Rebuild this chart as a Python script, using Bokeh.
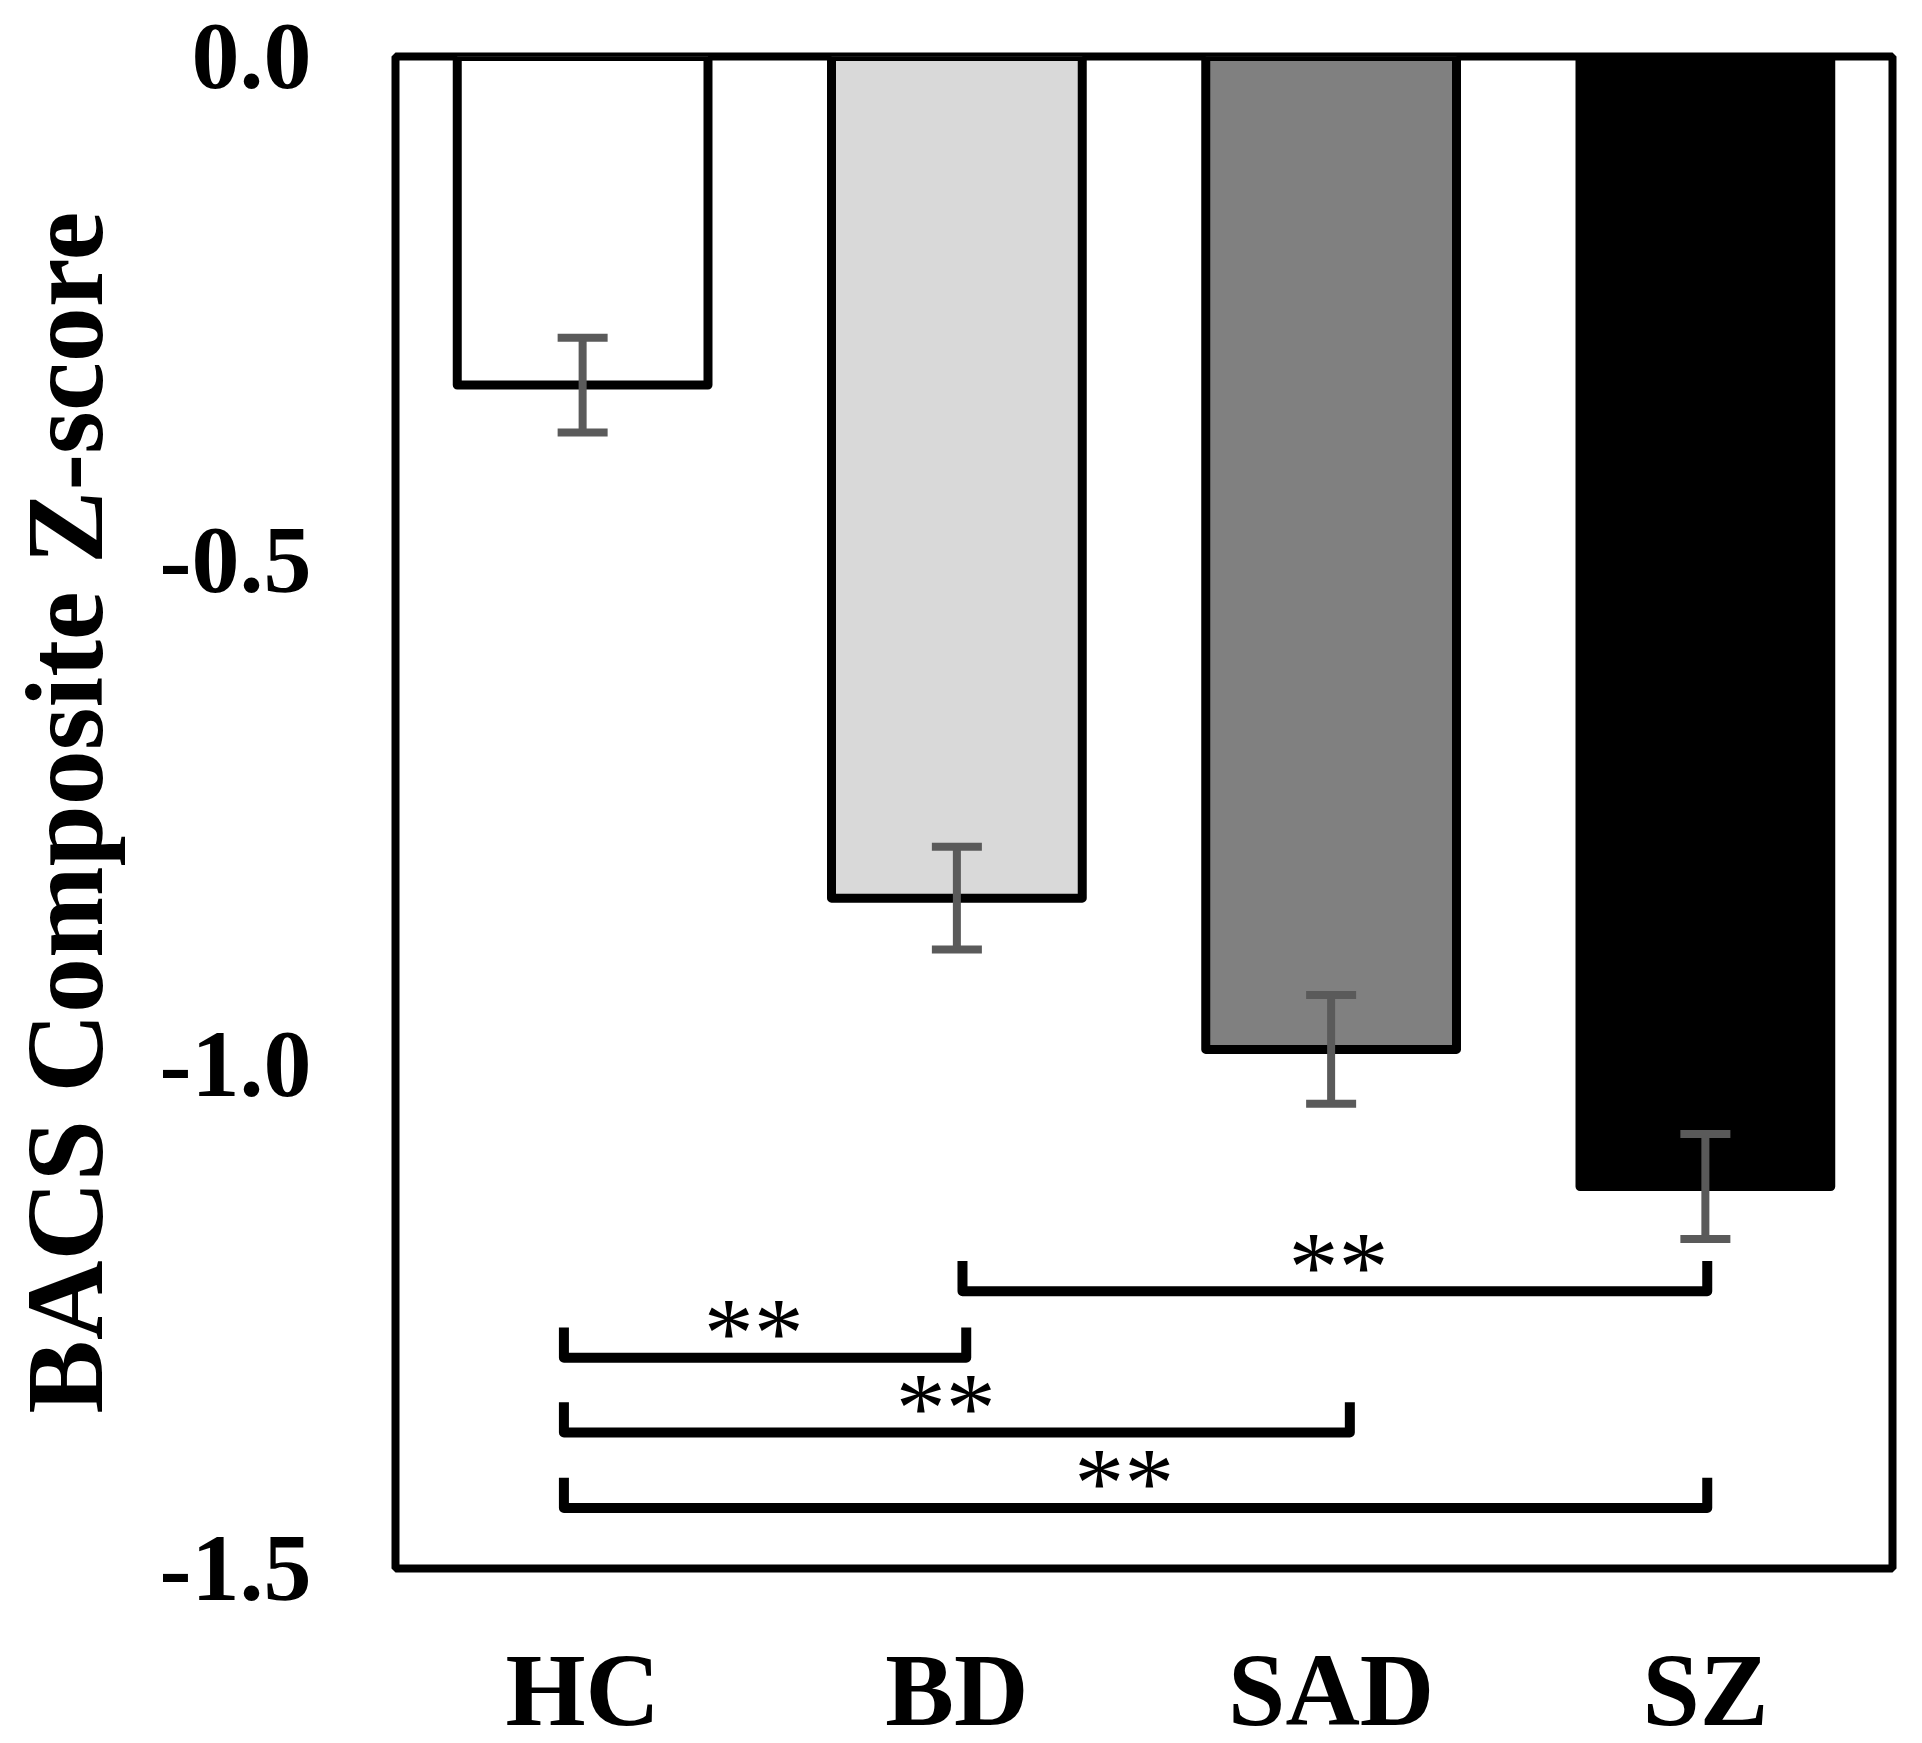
from bokeh.plotting import figure
from bokeh.models import FactorRange, Range1d, FixedTicker, Whisker, TeeHead, ColumnDataSource
from bokeh.embed import file_html
from bokeh.resources import INLINE
from bokeh.core.properties import value

# ---- data ----
groups = ["HC", "BD", "SAD", "SZ"]
means = [-0.326, -0.835, -0.985, -1.121]
sems = [0.047, 0.051, 0.054, 0.052]
fills = ["#ffffff", "#d9d9d9", "#808080", "#000000"]
y_ticks = [0.0, -0.5, -1.0, -1.5]
y_tick_labels = ["0.0", "-0.5", "-1.0", "-1.5"]
bracket_from = ["BD", "HC", "HC", "HC"]
bracket_to = ["SZ", "BD", "SAD", "SZ"]
bracket_levels = [-1.225, -1.291, -1.365, -1.440]
bracket_marks = ["**", "**", "**", "**"]
y_label = "BACS Composite Z-score"

FONT = "Liberation Serif"

p = figure(x_range=FactorRange(factors=groups), y_range=Range1d(-1.5, 0),
           frame_width=1497, frame_height=1512,
           min_border_left=380, min_border_top=56, min_border_right=15, min_border_bottom=165,
           output_backend="svg", toolbar_location=None)
p.background_fill_color = "white"
p.border_fill_color = "white"
p.grid.visible = False
p.outline_line_color = "black"
p.outline_line_width = 8

src = ColumnDataSource(dict(
    g=groups, mean=means, fill=fills,
    upper=[m + s for m, s in zip(means, sems)],
    lower=[m - s for m, s in zip(means, sems)],
))
p.vbar(x="g", bottom="mean", top=0, width=0.67, source=src,
       fill_color="fill", line_color="black", line_width=9, line_join="round")

head_kw = dict(size=50, line_color="#5a5a5a", line_width=8)
wh = Whisker(base="g", upper="upper", lower="lower", source=src,
             line_color="#5a5a5a", line_width=8, level="overlay",
             upper_head=TeeHead(**head_kw), lower_head=TeeHead(**head_kw))
p.add_layout(wh)

# significance brackets
tick_h = 0.03
off_from = {"HC": -0.05, "BD": 0.015}
off_to = {"BD": 0.025, "SAD": 0.05, "SZ": 0.005}
mark_shift = [0.01, -0.03, -0.03, -0.03]
xs, ys, mx, my = [], [], [], []
for a, b, lev, sh in zip(bracket_from, bracket_to, bracket_levels, mark_shift):
    x0 = groups.index(a) + 0.5 + off_from[a]
    x1 = groups.index(b) + 0.5 + off_to[b]
    xs.append([x0, x0, x1, x1])
    ys.append([lev + tick_h, lev, lev, lev + tick_h])
    mx.append((x0 + x1) / 2 + sh)
    my.append(lev + 0.025)
p.multi_line(xs=xs, ys=ys, line_color="black", line_width=10, line_join="round")
p.text(x=mx, y=my, text=bracket_marks, text_font=value(FONT), text_font_size="100px",
       text_align="center", text_baseline="middle", text_color="black")

# axes
for ax in (p.xaxis[0], p.yaxis[0]):
    ax.axis_line_color = None
    ax.major_tick_line_color = None
    ax.minor_tick_line_color = None
    ax.major_label_text_font = FONT
    ax.major_label_text_font_style = "bold"
    ax.major_label_text_color = "black"

p.xaxis.major_label_text_font_size = "103px"
p.xaxis.major_label_standoff = 58

p.yaxis.ticker = FixedTicker(ticks=y_ticks)
p.yaxis.major_label_overrides = {t: l for t, l in zip(y_ticks, y_tick_labels)}
p.yaxis.major_label_text_font_size = "96px"
p.yaxis.major_label_standoff = 78
p.yaxis.axis_label = y_label
p.yaxis.axis_label_text_font = FONT
p.yaxis.axis_label_text_font_style = "bold"
p.yaxis.axis_label_text_font_size = "110px"
p.yaxis.axis_label_text_color = "black"
p.yaxis.axis_label_standoff = 31

open("out.html", "w").write(file_html(p, INLINE))
